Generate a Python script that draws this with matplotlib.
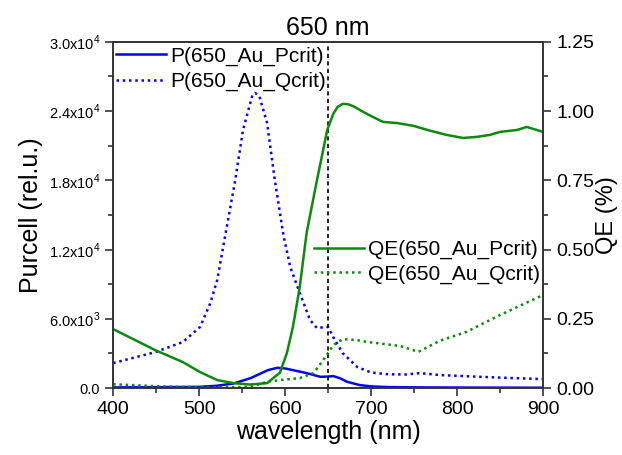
import numpy as np
import matplotlib
matplotlib.use('Agg')
import matplotlib.pyplot as plt
from matplotlib.ticker import FuncFormatter, MultipleLocator

plt.rcParams['font.family'] = ['Liberation Sans', 'DejaVu Sans']
plt.rcParams['mathtext.fontset'] = 'custom'
plt.rcParams['mathtext.rm'] = 'Liberation Sans'

# Purcell factor, Pcrit geometry
wl_p_pcrit = [400, 450, 500, 520, 540, 560, 580, 591, 600, 609, 625, 641, 650, 656, 664, 672, 687, 700, 720, 760, 800, 850, 900]
p_pcrit = [60, 80, 110, 200, 400, 870, 1560, 1760, 1700, 1560, 1300, 980, 1000, 1040, 850, 550, 260, 150, 90, 60, 50, 40, 35]

# Purcell factor, Qcrit geometry
wl_p_qcrit = [400, 449, 481, 501, 513, 521, 530, 542, 551, 562, 565, 570, 579, 588, 598, 606, 617, 629, 637, 646, 650, 656, 667, 684, 700, 720, 740, 757, 780, 820, 860, 900]
p_qcrit = [2170, 3120, 3990, 5290, 7370, 9360, 13090, 18030, 22370, 25400, 25580, 25300, 22980, 18030, 13260, 10490, 8240, 5900, 5200, 5290, 5300, 4420, 3030, 1820, 1350, 1200, 1180, 1300, 1130, 1000, 880, 780]

# QE, Pcrit geometry
wl_qe_pcrit = [400, 449, 481, 501, 521, 540, 559, 579, 594, 602, 609, 617, 625, 637, 649, 656, 661, 667, 673, 679, 691, 702, 714, 730, 749, 769, 788, 807, 823, 838, 850, 870, 881, 900]
qe_pcrit = [0.213, 0.137, 0.094, 0.058, 0.029, 0.018, 0.013, 0.018, 0.056, 0.126, 0.22, 0.365, 0.56, 0.75, 0.932, 0.99, 1.015, 1.026, 1.025, 1.018, 0.997, 0.979, 0.961, 0.957, 0.947, 0.929, 0.914, 0.903, 0.907, 0.914, 0.925, 0.932, 0.943, 0.925]

# QE, Qcrit geometry
wl_qe_qcrit = [400, 449, 500, 540, 560, 579, 594, 617, 633, 644, 656, 667, 684, 695, 734, 755, 780, 811, 850, 900]
qe_qcrit = [0.014, 0.007, 0.003, 0.003, 0.005, 0.023, 0.029, 0.036, 0.054, 0.10, 0.155, 0.177, 0.173, 0.167, 0.152, 0.131, 0.171, 0.203, 0.264, 0.336]

blue = '#0000ff'
green = '#0c8a0c'

fig = plt.figure(figsize=(6.22, 4.55), dpi=100)
ax = fig.add_axes([0.182, 0.147, 0.691, 0.761])
ax2 = ax.twinx()

l1, = ax.plot(wl_p_pcrit, p_pcrit, color=blue, lw=1.8, label='P(650_Au_Pcrit)')
l2, = ax.plot(wl_p_qcrit, p_qcrit, color=blue, lw=1.8, ls=(0, (1, 1.5)), label='P(650_Au_Qcrit)')
l3, = ax2.plot(wl_qe_pcrit, qe_pcrit, color=green, lw=1.8, label='QE(650_Au_Pcrit)')
l4, = ax2.plot(wl_qe_qcrit, qe_qcrit, color=green, lw=1.8, ls=(0, (1, 1.5)), label='QE(650_Au_Qcrit)')

ax.axvline(650, color='black', lw=1.2, ls=(0, (2.5, 2)))

ax.set_xlim(400, 900)
ax.set_ylim(0, 30000)
ax2.set_ylim(0, 1.25)

ax.xaxis.set_major_locator(MultipleLocator(100))
ax.xaxis.set_minor_locator(MultipleLocator(50))
ax.yaxis.set_major_locator(MultipleLocator(6000))
ax.yaxis.set_minor_locator(MultipleLocator(3000))
ax2.yaxis.set_major_locator(MultipleLocator(0.25))
ax2.yaxis.set_minor_locator(MultipleLocator(0.125))


def sci(v, pos):
    if v <= 0:
        return '0.0'
    e = int(np.floor(np.log10(v)))
    return '%.1fx10$^{%d}$' % (v / 10 ** e, e)


ax.yaxis.set_major_formatter(FuncFormatter(sci))
ax2.yaxis.set_major_formatter(FuncFormatter(lambda v, p: '%.2f' % v))

spine_c = '#333333'
for a in (ax, ax2):
    for s in a.spines.values():
        s.set_color(spine_c)
        s.set_linewidth(1.2)
ax.tick_params(axis='x', which='major', direction='out', length=6, width=1.2, color=spine_c, labelsize=14)
ax.tick_params(axis='x', which='minor', direction='out', length=3.5, width=1.2, color=spine_c)
ax.tick_params(axis='y', which='major', direction='out', length=6, width=1.2, color=spine_c, labelsize=10.5)
ax.tick_params(axis='y', which='minor', direction='out', length=3.5, width=1.2, color=spine_c)
ax2.tick_params(axis='y', which='major', direction='out', length=6, width=1.2, color=spine_c, labelsize=14)
ax2.tick_params(axis='y', which='minor', direction='out', length=3.5, width=1.2, color=spine_c)

ax.set_xlabel('wavelength (nm)', fontsize=18, labelpad=1)
ax.set_ylabel('Purcell (rel.u.)', fontsize=18, labelpad=4)
ax2.set_ylabel('QE (%)', fontsize=17, labelpad=1)
ax.set_title('650 nm', fontsize=18, pad=5)

ax.legend(handles=[l1, l2], loc='upper left', bbox_to_anchor=(0.0, 0.995), frameon=False,
          fontsize=15, handlelength=2.4, handletextpad=0.2, borderaxespad=0.1,
          borderpad=0.05, labelspacing=0.28)
ax2.legend(handles=[l3, l4], loc='center right', bbox_to_anchor=(0.995, 0.364), frameon=False,
           fontsize=15, handlelength=2.4, handletextpad=0.2, borderaxespad=0.0,
           borderpad=0.05, labelspacing=0.25)

fig.savefig('out.png', dpi=100)
